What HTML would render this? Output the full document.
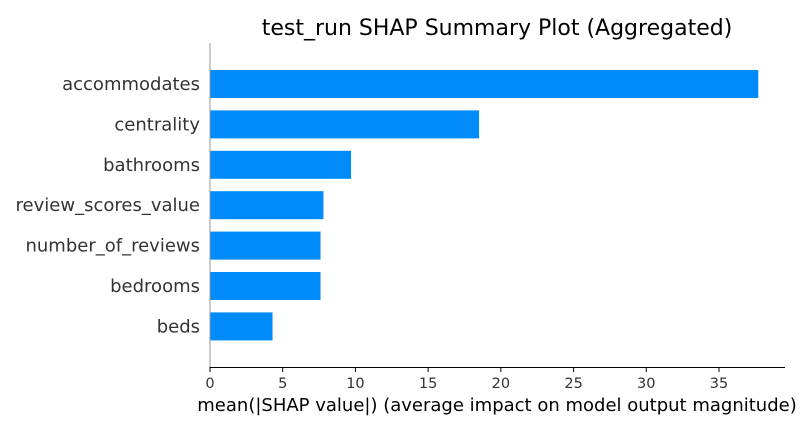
<!DOCTYPE html>
<html><head><meta charset="utf-8"><style>
body{margin:0;background:#fff;}
svg text{font-family:"DejaVu Sans","Liberation Sans",sans-serif;}
</style></head><body>
<svg id="chart" width="800" height="430" xmlns="http://www.w3.org/2000/svg">
<text x="497" y="35" font-size="22" text-anchor="middle" fill="#000">test_run SHAP Summary Plot (Aggregated)</text>
<g id="bars"></g>
<g id="ylabels"></g>
<g id="xticks"></g>
<line x1="210" y1="43" x2="210" y2="367" stroke="#999" stroke-width="1"/>
<line x1="210" y1="367.5" x2="785" y2="367.5" stroke="#000" stroke-width="1"/>
<text x="497" y="411" font-size="18" text-anchor="middle" fill="#000">mean(|SHAP value|) (average impact on model output magnitude)</text>
</svg>
<script>
const features=["accommodates","centrality","bathrooms","review_scores_value","number_of_reviews","bedrooms","beds"];
const values=[37.7,18.5,9.7,7.8,7.6,7.6,4.3];
const xTicks=[0,5,10,15,20,25,30,35];
const NS="http://www.w3.org/2000/svg";
const x0=210, xScale=(719-210)/35;
const xPos=v=>x0+v*xScale;
const yPos=i=>84+i*40.4;
const bars=document.getElementById('bars'),yl=document.getElementById('ylabels'),xt=document.getElementById('xticks');
features.forEach((f,i)=>{
  const r=document.createElementNS(NS,'rect');
  r.setAttribute('x',x0);r.setAttribute('y',yPos(i)-14);
  r.setAttribute('width',xPos(values[i])-x0);r.setAttribute('height',28);
  r.setAttribute('fill','#008bfb');
  
  
  bars.appendChild(r);
  const t=document.createElementNS(NS,'text');
  t.setAttribute('x',200);t.setAttribute('y',yPos(i)+6);
  t.setAttribute('text-anchor','end');t.setAttribute('font-size','18');t.setAttribute('fill','#333');
  t.textContent=f;
  
  
  yl.appendChild(t);
});
xTicks.forEach(v=>{
  const l=document.createElementNS(NS,'line');
  l.setAttribute('x1',xPos(v));l.setAttribute('x2',xPos(v));
  l.setAttribute('y1',367);l.setAttribute('y2',372);l.setAttribute('stroke','#000');
  
  
  xt.appendChild(l);
  const t=document.createElementNS(NS,'text');
  t.setAttribute('x',xPos(v));t.setAttribute('y',388);
  t.setAttribute('text-anchor','middle');t.setAttribute('font-size','14.5');t.setAttribute('fill','#333');
  t.textContent=v;
  
  
  xt.appendChild(t);
});
</script>
</body></html>
